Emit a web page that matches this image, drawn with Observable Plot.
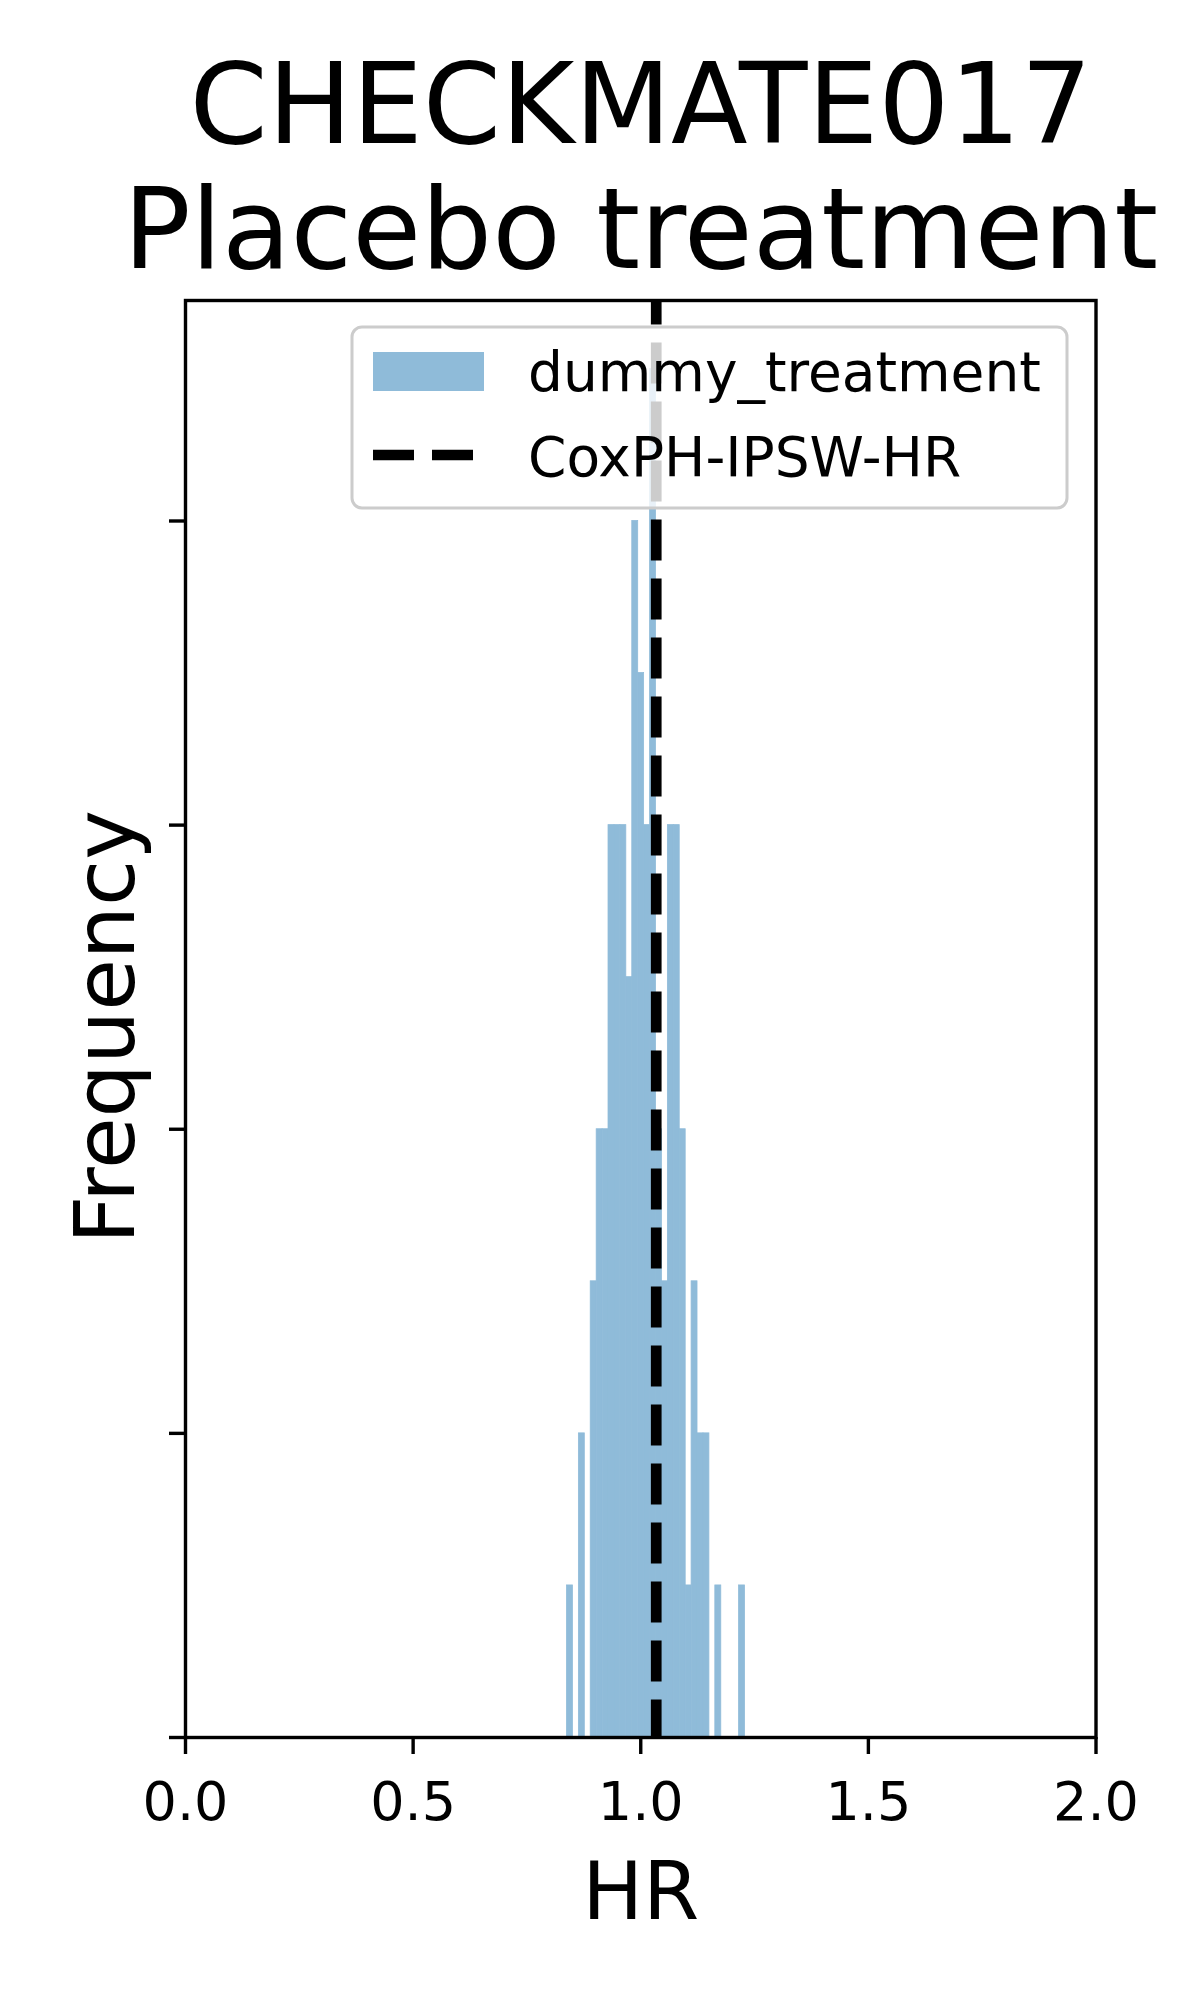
<!DOCTYPE html>
<html>
<head>
<meta charset="utf-8">
<script src="https://cdn.jsdelivr.net/npm/d3@7"></script>
<script src="https://cdn.jsdelivr.net/npm/@observablehq/plot@0.6"></script>
<style>
  html, body { margin: 0; padding: 0; background: white; }
  #wrap { position: relative; width: 1200px; height: 2000px; font-family: "DejaVu Sans", sans-serif; }
  #wrap svg { display: block; }
  #legend { position: absolute; left: 0; top: 0; pointer-events: none; }
</style>
</head>
<body>
<div id="wrap"></div>
<script>
// ---- data ----
const hrEdges = [0.8380, 0.8510, 0.8641, 0.8771, 0.8901, 0.9032, 0.9162, 0.9292, 0.9423, 0.9553,
                 0.9683, 0.9814, 0.9944, 1.0074, 1.0205, 1.0335, 1.0465, 1.0596, 1.0726, 1.0856,
                 1.0987, 1.1117, 1.1247, 1.1378, 1.1508, 1.1638, 1.1769, 1.1899, 1.2029, 1.2160, 1.2290];
const counts = [1, 0, 2, 0, 3, 4, 4, 6, 6, 6,
                5, 8, 7, 6, 9, 4, 3, 6, 6, 4,
                1, 3, 2, 2, 0, 1, 0, 0, 0, 1];
const coxHR = 1.034;
const xTicks = [0, 0.5, 1.0, 1.5, 2.0];
const yTicks = [0, 2, 4, 6, 8];
const yMax = 9.45;
const titleLines = ["CHECKMATE017", "Placebo treatment"];
const xLabel = "HR";
const yLabel = "Frequency";
const legendLabels = ["dummy_treatment", "CoxPH-IPSW-HR"];

const barColor = "#8fbbd9";
const bins = counts.map((c, i) => ({x1: hrEdges[i], x2: hrEdges[i + 1], count: c})).filter(d => d.count > 0);

const chart = Plot.plot({
  width: 1200,
  height: 2000,
  marginLeft: 185,
  marginRight: 104.5,
  marginTop: 300,
  marginBottom: 263,
  style: {fontFamily: "DejaVu Sans", background: "white", color: "black"},
  x: {domain: [0, 2]},
  y: {domain: [0, yMax]},
  marks: [
    Plot.rectY(bins, {x1: "x1", x2: "x2", y: "count", fill: barColor, stroke: barColor, strokeWidth: 0.8, inset: 0}),
    Plot.ruleX([coxHR], {y1: 0, y2: yMax, stroke: "black", strokeWidth: 10.7, strokeDasharray: "41,18", strokeDashoffset: 3.6}),
    Plot.frame({stroke: "black", strokeWidth: 3.4}),
    Plot.axisX({ticks: xTicks, tickFormat: d3.format(".1f"), tickSize: 17, tickPadding: 27, fontSize: 54, strokeWidth: 3.4, label: null}),
    Plot.axisY({ticks: yTicks, tickFormat: () => "", tickSize: 16, strokeWidth: 3.4, label: null}),
    Plot.text([titleLines.join("\n")], {text: d => d, frameAnchor: "top", dy: -33, lineAnchor: "bottom", fontSize: 112, lineHeight: 1.11}),
    Plot.text([xLabel], {text: d => d, frameAnchor: "bottom", dy: 181, lineAnchor: "bottom", fontSize: 81}),
    Plot.text([yLabel], {text: d => d, frameAnchor: "left", dx: -52, dy: 8, rotate: -90, lineAnchor: "bottom", textAnchor: "middle", fontSize: 84})
  ]
});

const wrap = document.getElementById("wrap");
wrap.appendChild(chart);

// ---- legend overlay (matplotlib-style, semi-transparent frame) ----
const lg = d3.select(wrap).append("svg")
  .attr("id", "legend")
  .attr("width", 1200).attr("height", 2000)
  .style("font-family", "DejaVu Sans");
lg.append("rect")
  .attr("x", 352).attr("y", 327).attr("width", 715).attr("height", 181).attr("rx", 10)
  .attr("fill", "white").attr("fill-opacity", 0.8)
  .attr("stroke", "#cccccc").attr("stroke-width", 3);
lg.append("rect")
  .attr("x", 373).attr("y", 352).attr("width", 111).attr("height", 39)
  .attr("fill", barColor);
lg.append("line")
  .attr("x1", 373).attr("x2", 484).attr("y1", 455).attr("y2", 455)
  .attr("stroke", "black").attr("stroke-width", 10.7).attr("stroke-dasharray", "41,18");
lg.selectAll("text.lab").data(legendLabels).join("text")
  .attr("class", "lab")
  .attr("x", 528)
  .attr("y", (d, i) => [391, 476][i])
  .attr("font-size", 55)
  .attr("fill", "black")
  .text(d => d);
</script>
</body>
</html>
